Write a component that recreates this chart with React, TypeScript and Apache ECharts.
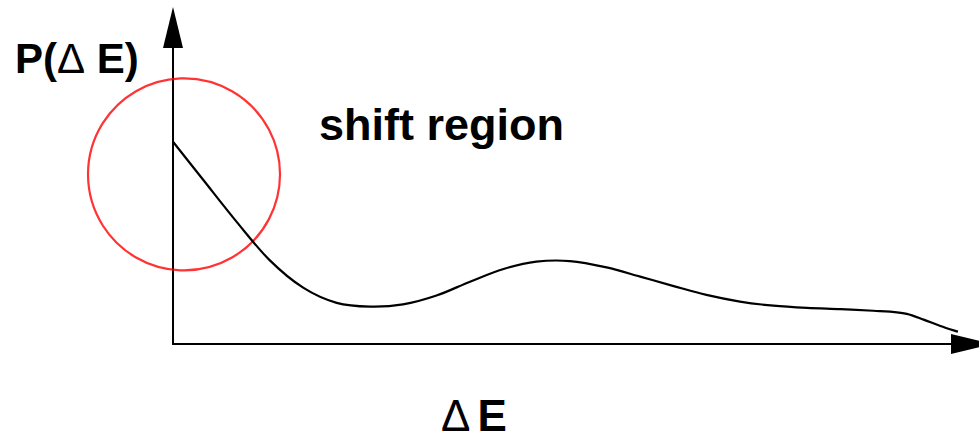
import React, { useEffect, useRef } from "react";
import * as echarts from "echarts";

// Energy-shift distribution P(ΔE) sampled along ΔE (arbitrary units, 0..10)
const deltaE = [
  0, 0.38, 0.8, 1.21, 1.63, 2.05, 2.47, 2.88, 3.3, 3.72, 4.14, 4.55, 4.97, 5.43, 5.85, 6.27,
  6.68, 7.1, 7.52, 7.94, 8.36, 8.77, 8.98, 9.19, 9.4, 9.61, 9.83,
];
const probability = [
  6.39, 5.18, 3.85, 2.65, 1.78, 1.3, 1.18, 1.25, 1.53, 1.97, 2.37, 2.6, 2.62, 2.42, 2.13, 1.83,
  1.55, 1.34, 1.21, 1.14, 1.1, 1.05, 1.02, 0.95, 0.77, 0.57, 0.39,
];

// Highlighted "shift region" near ΔE = 0
const regionCenter = [0.138, 5.36];

const yLabel = ["P(", "Δ", " E)"];
const xLabel = ["Δ", "E"];
const regionLabel = "shift region";

const FONT = "'Liberation Sans', Arial, sans-serif";

// Catmull-Rom spline through pixel points, written as cubic Bézier path data
function splinePath(pts: number[][]): string {
  const n = pts.length;
  let d = `M${pts[0][0]},${pts[0][1]}`;
  for (let i = 0; i < n - 1; i++) {
    const p0 = pts[Math.max(i - 1, 0)];
    const p1 = pts[i];
    const p2 = pts[i + 1];
    const p3 = pts[Math.min(i + 2, n - 1)];
    const c1x = p1[0] + (p2[0] - p0[0]) / 6;
    const c1y = p1[1] + (p2[1] - p0[1]) / 6;
    const c2x = p2[0] - (p3[0] - p1[0]) / 6;
    const c2y = p2[1] - (p3[1] - p1[1]) / 6;
    d += ` C${c1x},${c1y} ${c2x},${c2y} ${p2[0]},${p2[1]}`;
  }
  return d;
}

export default function App() {
  const ref = useRef<HTMLDivElement>(null);

  useEffect(() => {
    if (!ref.current) return;
    const chart = echarts.init(ref.current, null, { renderer: "svg" });

    const axisCommon = {
      type: "value" as const,
      min: 0,
      max: 10,
      axisLine: {
        show: true,
        symbol: ["none", "triangle"],
        symbolSize: [20, 41],
        lineStyle: { color: "#000", width: 2 },
      },
      axisTick: { show: false },
      axisLabel: { show: false },
      splitLine: { show: false },
    };

    const curveData = deltaE.map((x, i) => [x, probability[i]]);

    chart.setOption({
      animation: false,
      backgroundColor: "#fff",
      grid: { left: 173, top: 27.5, right: 7.5, bottom: 91 },
      xAxis: axisCommon,
      yAxis: axisCommon,
      series: [
        {
          type: "scatter",
          data: [regionCenter],
          symbol: "circle",
          symbolSize: 192,
          itemStyle: { color: "rgba(0,0,0,0)", borderColor: "#ff0000", borderWidth: 2.2 },
          silent: true,
          z: 1,
        },
        {
          type: "custom",
          coordinateSystem: "cartesian2d",
          data: curveData,
          encode: { x: 0, y: 1 },
          silent: true,
          z: 2,
          renderItem: (params: any, api: any) => {
            if (params.dataIndex !== 0) return null;
            const pts = curveData.map((p) => api.coord(p));
            return {
              type: "path",
              shape: { pathData: splinePath(pts) },
              style: { fill: "none", stroke: "#000", lineWidth: 2.2, lineJoin: "round" },
            };
          },
        },
      ],
      graphic: [
        {
          type: "text",
          x: 15,
          y: 58,
          style: {
            text: `{b|${yLabel[0]}}{d|${yLabel[1]}}{b|${yLabel[2]}}`,
            verticalAlign: "middle",
            rich: {
              b: { fontFamily: FONT, fontWeight: "bold", fontSize: 42, lineHeight: 40, fill: "#000" },
              d: { fontFamily: FONT, fontWeight: "normal", fontSize: 42, lineHeight: 40, fill: "#000" },
            },
          },
        },
        {
          type: "text",
          x: 319,
          y: 124,
          style: {
            text: regionLabel,
            fontFamily: FONT,
            fontWeight: "bold",
            fontSize: 45,
            lineHeight: 44,
            fill: "#000",
            verticalAlign: "middle",
          },
        },
        {
          type: "text",
          x: 441,
          y: 415,
          style: {
            text: `{d|${xLabel[0]}}{e|${xLabel[1]}}`,
            verticalAlign: "middle",
            rich: {
              d: { fontFamily: FONT, fontWeight: "normal", fontSize: 44, lineHeight: 34, fill: "#000" },
              e: {
                fontFamily: FONT,
                fontWeight: "bold",
                fontSize: 44,
                lineHeight: 34,
                fill: "#000",
                padding: [0, 0, 0, 7],
              },
            },
          },
        },
      ],
    });

    return () => chart.dispose();
  }, []);

  return (
    <div
      ref={ref}
      style={{ position: "fixed", left: 0, top: 0, width: 979, height: 435, background: "#fff" }}
    />
  );
}
